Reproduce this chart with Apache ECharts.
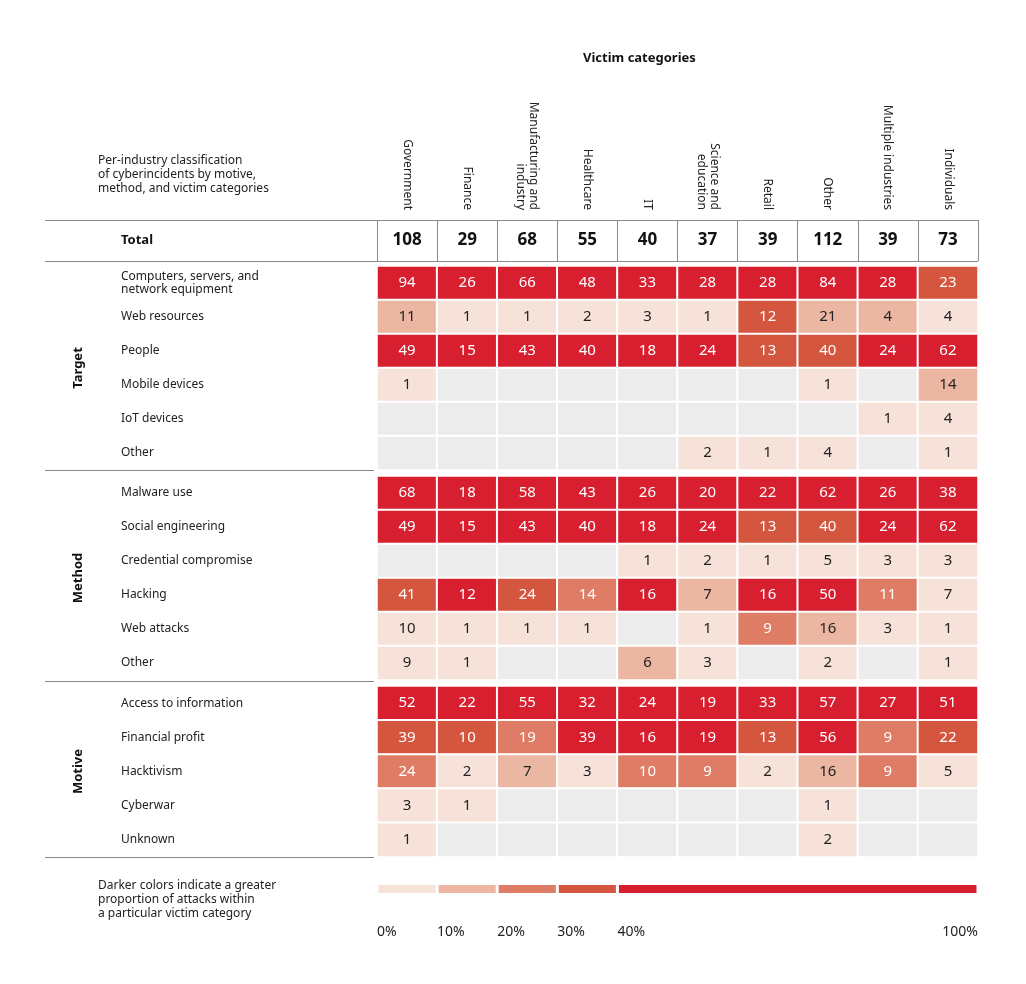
<!DOCTYPE html>
<html>
<head>
<meta charset="utf-8">
<script src="https://cdn.jsdelivr.net/npm/echarts@6/dist/echarts.min.js"></script>
<style>html,body{margin:0;background:#fff}#main{width:1026px;height:984px}</style>
</head>
<body>
<div id="main"></div>
<script>
// victim categories (columns)
var categories = ['Government', 'Finance', 'Manufacturing and\nindustry', 'Healthcare', 'IT',
    'Science and\neducation', 'Retail', 'Other', 'Multiple industries', 'Individuals'];
var totals = [108, 29, 68, 55, 40, 37, 39, 112, 39, 73];

// 0 = no incidents (grey cell)
var targetRows = ['Computers, servers, and\nnetwork equipment', 'Web resources', 'People', 'Mobile devices', 'IoT devices', 'Other'];
var targetValues = [
    [94, 26, 66, 48, 33, 28, 28, 84, 28, 23],
    [11, 1, 1, 2, 3, 1, 12, 21, 4, 4],
    [49, 15, 43, 40, 18, 24, 13, 40, 24, 62],
    [1, 0, 0, 0, 0, 0, 0, 1, 0, 14],
    [0, 0, 0, 0, 0, 0, 0, 0, 1, 4],
    [0, 0, 0, 0, 0, 2, 1, 4, 0, 1]
];
var methodRows = ['Malware use', 'Social engineering', 'Credential compromise', 'Hacking', 'Web attacks', 'Other'];
var methodValues = [
    [68, 18, 58, 43, 26, 20, 22, 62, 26, 38],
    [49, 15, 43, 40, 18, 24, 13, 40, 24, 62],
    [0, 0, 0, 0, 1, 2, 1, 5, 3, 3],
    [41, 12, 24, 14, 16, 7, 16, 50, 11, 7],
    [10, 1, 1, 1, 0, 1, 9, 16, 3, 1],
    [9, 1, 0, 0, 6, 3, 0, 2, 0, 1]
];
var motiveRows = ['Access to information', 'Financial profit', 'Hacktivism', 'Cyberwar', 'Unknown'];
var motiveValues = [
    [52, 22, 55, 32, 24, 19, 33, 57, 27, 51],
    [39, 10, 19, 39, 16, 19, 13, 56, 9, 22],
    [24, 2, 7, 3, 10, 9, 2, 16, 9, 5],
    [3, 1, 0, 0, 0, 0, 0, 1, 0, 0],
    [1, 0, 0, 0, 0, 0, 0, 2, 0, 0]
];

// legend scale
var legendBreaks = [0, 10, 20, 30, 40, 100];
var shades = ['#f7e2da', '#ebb7a2', '#de7c65', '#d5563f', '#d71f2f'];

var FONT = 'Noto Sans';
var LINE = '#888';

function cells(values) {
    var out = [];
    values.forEach(function (row, r) {
        row.forEach(function (v, c) {
            var pct = v ? v / totals[c] * 100 : -1;
            out.push({
                value: [c, r, v, pct],
                label: { color: pct >= 20 ? '#fff' : '#222' }
            });
        });
    });
    return out;
}

var blocks = [
    { name: 'Target', rows: targetRows, values: targetValues, top: 266, height: 204 },
    { name: 'Method', rows: methodRows, values: methodValues, top: 476, height: 204 },
    { name: 'Motive', rows: motiveRows, values: motiveValues, top: 686, height: 171 }
];

var grids = [{ left: 377, right: 48, top: 220, height: 41 }];
var xAxes = [{
    type: 'category', gridIndex: 0, data: categories, position: 'top',
    axisLine: { lineStyle: { color: LINE } },
    axisTick: { length: 140, lineStyle: { color: LINE }, interval: function (i) { return i > 0; } },
    axisLabel: { rotate: 90, margin: 10, fontFamily: FONT, fontSize: 12, color: '#222', lineHeight: 13 },
    splitLine: { show: true, lineStyle: { color: LINE } }
}];
var yAxes = [{
    type: 'category', gridIndex: 0, data: ['Total'],
    axisLine: { show: false }, axisTick: { show: false },
    axisLabel: { align: 'left', margin: 256, fontFamily: FONT, fontSize: 13, fontWeight: 'bold', color: '#111' }
}];
var series = [{
    type: 'heatmap', xAxisIndex: 0, yAxisIndex: 0,
    data: totals.map(function (t, i) { return [i, 0, t]; }),
    itemStyle: { color: 'rgba(0,0,0,0)' },
    label: { show: true, fontFamily: FONT, fontSize: 17, fontWeight: 'bold', color: '#111' }
}];

blocks.forEach(function (b, k) {
    var gi = k + 1;
    grids.push({ left: 377, right: 48, top: b.top, height: b.height });
    xAxes.push({ type: 'category', gridIndex: gi, data: categories, show: false });
    yAxes.push({
        type: 'category', gridIndex: gi, data: b.rows, inverse: true,
        name: b.name, nameLocation: 'middle', nameRotate: 90, nameGap: 292,
        nameTextStyle: { fontFamily: FONT, fontSize: 13, fontWeight: 'bold', color: '#111' },
        axisLine: { show: false },
        axisTick: { length: 267, lineStyle: { color: LINE }, interval: function (i) { return i > 0; } },
        axisLabel: { align: 'left', margin: 256, fontFamily: FONT, fontSize: 12, color: '#222', lineHeight: 13 }
    });
    series.push({
        type: 'heatmap', xAxisIndex: gi, yAxisIndex: gi, data: cells(b.values),
        itemStyle: { borderColor: '#fff', borderWidth: 2 },
        label: {
            show: true, fontFamily: FONT, fontSize: 15,
            formatter: function (p) { return p.value[2] ? p.value[2] : ''; }
        },
        emphasis: { disabled: true }
    });
});

// legend bar
grids.push({ left: 377, right: 48, top: 883, height: 12 });
xAxes.push({
    type: 'value', gridIndex: 4, min: 0, max: 100,
    axisLine: { show: false }, axisTick: { show: false }, splitLine: { show: false },
    axisLabel: {
        customValues: legendBreaks, formatter: '{value}%', align: 'left', alignMaxLabel: 'right',
        margin: 30, fontFamily: FONT, fontSize: 14, color: '#222'
    }
});
yAxes.push({ type: 'category', gridIndex: 4, data: [''], show: false });
shades.forEach(function (c, i) {
    series.push({
        type: 'bar', xAxisIndex: 4, yAxisIndex: 4, stack: 'legend', barWidth: 11,
        data: [legendBreaks[i + 1] - legendBreaks[i]],
        itemStyle: { color: c, borderColor: '#fff', borderWidth: 1.5 },
        silent: true
    });
});

function hline(x1, x2, y) {
    return { type: 'line', shape: { x1: x1, y1: y, x2: x2, y2: y }, style: { stroke: LINE, lineWidth: 1 } };
}

var chart = echarts.init(document.getElementById('main'));
chart.setOption({
    animation: false,
    grid: grids, xAxis: xAxes, yAxis: yAxes, series: series,
    visualMap: {
        type: 'piecewise', show: false, dimension: 3, seriesIndex: [1, 2, 3],
        pieces: [
            { lt: 0, color: '#ececec' },
            { gte: 0, lt: 10, color: shades[0] },
            { gte: 10, lt: 20, color: shades[1] },
            { gte: 20, lt: 30, color: shades[2] },
            { gte: 30, lt: 40, color: shades[3] },
            { gte: 40, color: shades[4] }
        ]
    },
    graphic: [
        { type: 'text', left: 583, top: 52, style: { text: 'Victim categories', font: 'bold 13px "Noto Sans"', fill: '#111' } },
        { type: 'text', left: 98, top: 154, style: { text: 'Per-industry classification\nof cyberincidents by motive,\nmethod, and victim categories', font: '12px "Noto Sans"', lineHeight: 14, fill: '#222' } },
        { type: 'text', left: 98, top: 879, style: { text: 'Darker colors indicate a greater\nproportion of attacks within\na particular victim category', font: '12px "Noto Sans"', lineHeight: 14, fill: '#222' } },
        hline(45, 978, 220.5),
        hline(45, 978, 261.5),
        hline(45, 374, 470.5),
        hline(45, 374, 681.5),
        hline(45, 374, 857.5)
    ]
});
</script>
</body>
</html>
